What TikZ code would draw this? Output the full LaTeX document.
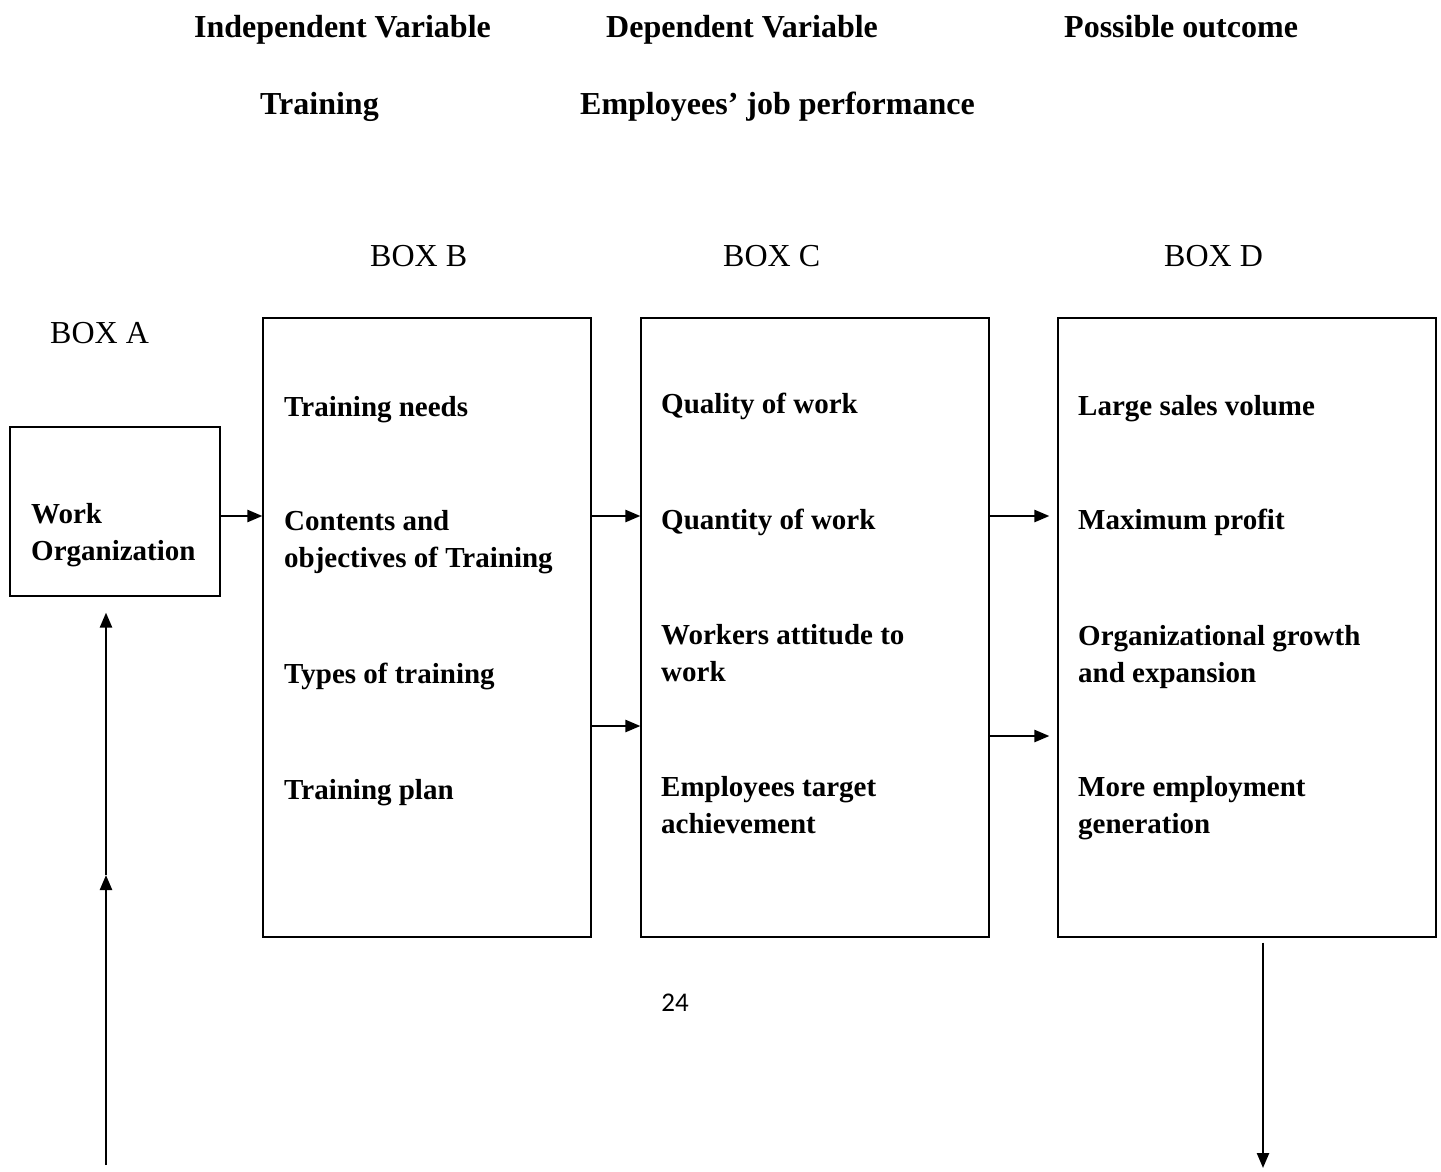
\documentclass[tikz,border=0pt]{standalone}
\usepackage{fontspec}
\setmainfont{Liberation Serif}
\newfontfamily\pagefont{Carlito}
\usetikzlibrary{arrows.meta, positioning}

\begin{document}
\begin{tikzpicture}[
    x=1pt, y=-1pt,
    >={Triangle[length=15pt, width=12pt]},
    box/.style={rectangle, draw, line width=1.2pt, inner sep=0pt},
    arrow/.style={->, line width=2.4pt},
    head/.style={anchor=base west, inner sep=0pt, font=\bfseries\fontsize{32}{38}\selectfont},
    boxlabel/.style={anchor=base west, inner sep=0pt, font=\fontsize{32}{38}\selectfont},
    itemtext/.style={anchor=base west, inner sep=0pt, align=left, font=\bfseries\fontsize{29}{37}\selectfont}
]
\useasboundingbox (0,0) rectangle (1441,1171);

% ========== HEADINGS ==========
\node[head] (indep) at (194,37) {Independent Variable};
\node[head] (dep) at (606,37) {Dependent Variable};
\node[head] (outcome) at (1064,37) {Possible outcome};
\node[head] (training) at (260,114) {Training};
\node[head] (perf) at (580,114) {Employees’ job performance};

% ========== BOXES ==========
\node[box, minimum width=210, minimum height=169] (boxA) at (115,511.5) {};
\node[box, minimum width=328, minimum height=619] (boxB) at (427,627.5) {};
\node[box, minimum width=348, minimum height=619] (boxC) at (815,627.5) {};
\node[box, minimum width=378, minimum height=619] (boxD) at (1247,627.5) {};

\node[boxlabel] (labelA) at (50,343) {BOX A};
\node[boxlabel] (labelB) at (370,266) {BOX B};
\node[boxlabel] (labelC) at (723,266) {BOX C};
\node[boxlabel] (labelD) at (1164,266) {BOX D};

% Box A
\node[itemtext] (work) at (31,560) {Work\\Organization};

% Box B
\node[itemtext] (needs) at (284,416) {Training needs};
\node[itemtext] (contents) at (284,567) {Contents and\\objectives of Training};
\node[itemtext] (types) at (284,683) {Types of training};
\node[itemtext] (plan) at (284,799) {Training plan};

% Box C
\node[itemtext] (quality) at (661,413) {Quality of work};
\node[itemtext] (quantity) at (661,529) {Quantity of work};
\node[itemtext] (attitude) at (661,681) {Workers attitude to\\work};
\node[itemtext] (target) at (661,833) {Employees target\\achievement};

% Box D
\node[itemtext] (sales) at (1078,415) {Large sales volume};
\node[itemtext] (profit) at (1078,529) {Maximum profit};
\node[itemtext] (growth) at (1078,682) {Organizational growth\\and expansion};
\node[itemtext] (employment) at (1078,833) {More employment\\generation};

\node[font=\pagefont\fontsize{27}{30}\selectfont] (page) at (675,1003) {24};

% ========== ARROWS ==========
\draw[arrow] (boxA.east |- 0,516) -- (boxB.west |- 0,516);
\draw[arrow] (boxB.east |- 0,516) -- (boxC.west |- 0,516);
\draw[arrow] (boxB.east |- 0,726) -- (boxC.west |- 0,726);
\draw[arrow, shorten >=8pt] (boxC.east |- 0,516) -- (boxD.west |- 0,516);
\draw[arrow, shorten >=8pt] (boxC.east |- 0,736) -- (boxD.west |- 0,736);

% Feedback line
\coordinate (bottomL) at (106,1165);
\coordinate (midL) at (106,875);
\coordinate (bottomR) at (1263,1168);
\draw[arrow] (bottomL) -- (midL);
\draw[arrow, shorten >=16pt] (midL) -- (midL |- boxA.south);
\draw[arrow, shorten <=5pt] (bottomR |- boxD.south) -- (bottomR);

\end{tikzpicture}
\end{document}
